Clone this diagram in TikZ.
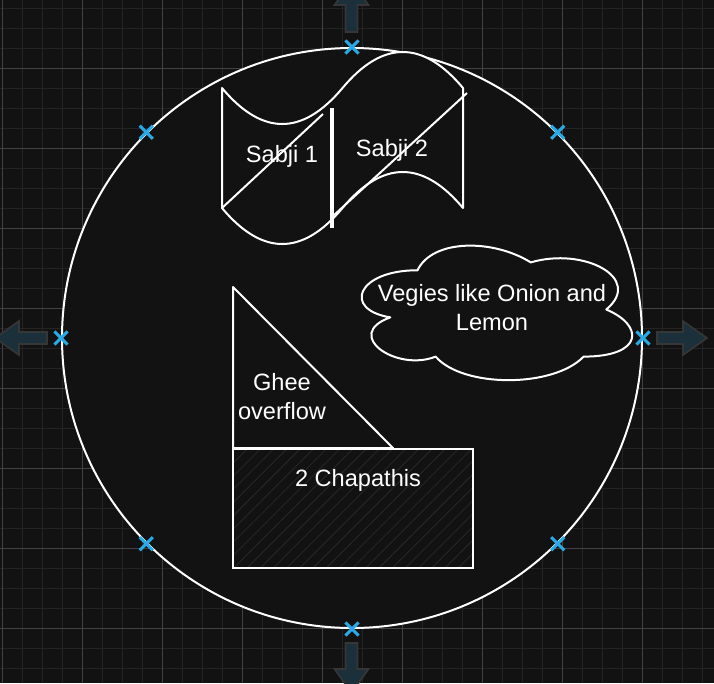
\documentclass[tikz,border=0pt]{standalone}
\usepackage{fontspec}
\setmainfont{Liberation Sans}
\usetikzlibrary{shapes.misc,patterns.meta}
\definecolor{bg}{RGB}{18,18,18}
\definecolor{gridminor}{RGB}{36,36,36}
\definecolor{gridmajor}{RGB}{66,66,66}
\definecolor{markblue}{RGB}{41,170,230}
\definecolor{arrfill}{RGB}{27,48,59}
\definecolor{arrdraw}{RGB}{54,54,54}
\definecolor{hatch}{RGB}{40,40,40}
\begin{document}
\begin{tikzpicture}[x=0.75pt,y=-0.75pt,
  shapeline/.style={draw=white,line width=1.5pt,line join=round},
  lbl/.style={text=white,font=\fontsize{17.7}{21.75}\selectfont,align=center,inner sep=0pt},
  marker/.style={cross out,draw=markblue,line width=2.3pt,minimum size=7.5pt,inner sep=0pt},
  hover/.style={fill=arrfill,draw=arrdraw,line width=1.2pt,line join=miter}]
\useasboundingbox (0,0) rectangle (714,683);
\clip (0,0) rectangle (714,683);
% background and grid
\fill[bg] (0,0) rectangle (714,683);
\foreach \x in {2,22,...,702} \draw[gridminor,line width=0.75pt] (\x,0) -- (\x,683);
\foreach \y in {8,28,...,668} \draw[gridminor,line width=0.75pt] (0,\y) -- (714,\y);
\foreach \x in {2,82,...,642} \draw[gridmajor,line width=0.75pt] (\x,0) -- (\x,683);
\foreach \y in {68,148,...,628} \draw[gridmajor,line width=0.75pt] (0,\y) -- (714,\y);
% hover arrows
\draw[hover] (345.5,32) -- (345.5,5) -- (334.5,5) -- (351.5,-19) -- (368.5,5) -- (357.5,5) -- (357.5,32) -- cycle;
\draw[hover] (345.5,643) -- (345.5,669) -- (334.5,669) -- (351.5,693) -- (368.5,669) -- (357.5,669) -- (357.5,643) -- cycle;
\draw[hover] (657,332) -- (683,332) -- (683,321) -- (707,338) -- (683,355) -- (683,344) -- (657,344) -- cycle;
\draw[hover] (47,332) -- (19,332) -- (19,321) -- (-5,338) -- (19,355) -- (19,344) -- (47,344) -- cycle;
% plate
\node (plate) [circle,draw=white,line width=1.5pt,fill=bg,minimum size=435pt,inner sep=0pt] at (352,338) {};
% tape (sabji)
\draw[shapeline,fill=bg] (222,88) .. controls (262.17,136) and (302.33,136) .. (342.5,88)
  .. controls (382.67,40) and (422.83,40) .. (463,88) -- (463,208)
  .. controls (422.83,160) and (382.67,160) .. (342.5,208)
  .. controls (302.33,256) and (262.17,256) .. (222,208) -- cycle;
\coordinate (d1a) at (222,208);
\coordinate (d1b) at (323,114);
\coordinate (d2a) at (333,216);
\coordinate (d2b) at (467,93);
\coordinate (sepa) at (332,108);
\coordinate (sepb) at (332,228);
\draw[shapeline] (d1a) -- (d1b);
\draw[shapeline] (d2a) -- (d2b);
\draw[draw=white,line width=3pt] (sepa) -- (sepb);
\node[lbl] (s1) at (282,156.6) {Sabji 1};
\node[lbl] (s2) at (392,150.6) {Sabji 2};
% cloud
\draw[shapeline,fill=bg] (417.5,270.25)
  .. controls (357.1,270.25) and (342,309.5) .. (390.32,317.35)
  .. controls (342,334.62) and (396.36,372.3) .. (435.62,356.6)
  .. controls (462.8,388) and (553.4,388) .. (583.6,356.6)
  .. controls (644,356.6) and (644,325.2) .. (606.25,309.5)
  .. controls (644,278.1) and (583.6,246.7) .. (530.75,262.4)
  .. controls (493,238.85) and (432.6,238.85) .. (417.5,270.25) -- cycle;
\node[lbl] (veg) at (492,307.7) {Vegies like Onion and\\Lemon};
% ghee triangle
\coordinate (ta) at (233,287);
\coordinate (tb) at (233,448);
\coordinate (tc) at (393,448);
\draw[shapeline] (tc) -- (ta) -- (tb) -- cycle;
\node[lbl] (ghee) at (282,397) {Ghee\\overflow};
% chapathis
\node (chap) [draw=white,line width=1.5pt,minimum width=180pt,minimum height=89.25pt,inner sep=0pt,
  pattern={Lines[angle=45,distance=7pt,line width=0.6pt]},pattern color=hatch] at (353,508.5) {};
\node[lbl] (chapt) at (358,480.6) {2 Chapathis};
% markers
\foreach \a [count=\i] in {0,45,90,135,180,225,270,315}
  \node[marker] (m\i) at (plate.\a) {};
\end{tikzpicture}
\end{document}
